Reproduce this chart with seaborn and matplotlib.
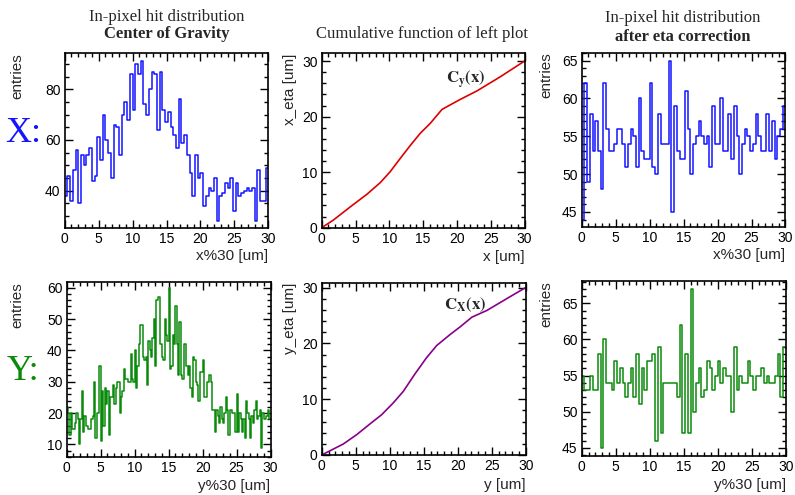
import numpy as np
import pandas as pd
import matplotlib
matplotlib.use("Agg")
import matplotlib.pyplot as plt
import seaborn as sns
from matplotlib.ticker import MultipleLocator

# ---------------- data ----------------
# In-pixel hit distribution, centre of gravity, X (75 bins over 0..30 um)
x_cog_counts = [38, 46, 36, 48, 56, 35, 54, 50, 54, 57,
                44, 46, 61, 52, 70, 60, 55, 45, 66, 65,
                54, 70, 75, 68, 86, 72, 90, 86, 91, 74,
                70, 80, 87, 86, 64, 87, 72, 67, 71, 65,
                62, 57, 76, 59, 62, 54, 47, 38, 54, 45,
                47, 34, 38, 41, 40, 45, 28, 38, 39, 43,
                41, 45, 32, 43, 38, 39, 40, 41, 40, 41,
                28, 48, 36, 36, 49]
# centre of gravity, Y (150 bins over 0..30 um)
y_cog_counts = [22, 20, 13, 20, 15, 15, 17, 20, 18, 10,
                18, 27, 14, 19, 16, 16, 15, 15, 18, 19,
                30, 12, 20, 20, 35, 11, 27, 16, 28, 23,
                27, 13, 25, 25, 29, 23, 28, 30, 30, 20,
                25, 27, 34, 31, 31, 30, 30, 39, 31, 30,
                40, 28, 35, 42, 48, 48, 38, 37, 38, 29,
                43, 40, 38, 44, 50, 35, 56, 57, 57, 42,
                38, 37, 50, 45, 43, 60, 34, 35, 45, 42,
                54, 42, 32, 49, 32, 31, 42, 42, 35, 32,
                35, 28, 25, 38, 37, 30, 29, 24, 33, 33,
                37, 25, 25, 30, 30, 32, 30, 21, 21, 14,
                21, 19, 17, 22, 18, 17, 20, 25, 21, 13,
                21, 21, 20, 20, 14, 26, 14, 20, 18, 14,
                18, 12, 24, 20, 18, 12, 19, 17, 21, 24,
                18, 19, 21, 9, 20, 18, 18, 19, 21, 18]
# after eta correction, X (75 bins)
x_eta_counts = [44, 62, 49, 58, 53, 57, 53, 48, 62, 56,
                53, 53, 54, 56, 56, 54, 51, 54, 56, 55,
                51, 60, 53, 52, 52, 62, 51, 50, 58, 54,
                54, 54, 65, 45, 59, 53, 52, 52, 61, 56,
                50, 54, 55, 57, 55, 54, 55, 51, 59, 54,
                54, 60, 53, 53, 58, 52, 59, 55, 50, 54,
                56, 55, 53, 54, 58, 55, 53, 53, 58, 53,
                57, 52, 55, 56, 59]
# after eta correction, Y (75 bins)
y_eta_counts = [55, 53, 53, 55, 53, 53, 58, 45, 60, 54,
                54, 53, 57, 54, 56, 54, 52, 54, 56, 52,
                58, 51, 56, 53, 57, 57, 58, 46, 59, 47,
                54, 54, 54, 54, 54, 52, 62, 47, 58, 47,
                67, 50, 54, 56, 52, 53, 57, 56, 53, 55,
                57, 54, 56, 55, 55, 50, 59, 53, 55, 54,
                54, 57, 55, 53, 55, 55, 56, 54, 55, 54,
                54, 55, 58, 52, 59]
# cumulative functions (read points)
cum_x_pos = [0, 1.73, 4.45, 6.67, 8.65, 10.13, 11.62, 13.1, 14.58, 16.07,
             17.8, 18.54, 20.5, 23.0, 26.45, 30.0]
cum_x_val = [0, 1.38, 3.96, 6.0, 8.1, 10.08, 12.48, 14.8, 17.0, 18.8,
             21.3, 21.8, 23.1, 24.65, 27.2, 30.0]
cum_y_pos = [0, 3.19, 5.15, 7.1, 8.8, 10.5, 12.0, 13.7, 15.4, 16.9,
             18.9, 20.3, 22.1, 24.3, 27.2, 30.0]
cum_y_val = [0, 1.98, 3.65, 5.57, 7.2, 9.3, 11.4, 14.5, 17.4, 19.6,
             21.6, 22.9, 24.7, 25.9, 28.0, 30.0]

col_top_titles = ["In-pixel hit distribution", "Cumulative function of left plot",
                  "In-pixel hit distribution"]
col_sub_titles = ["Center of Gravity", "", "after eta correction"]

# ---------------- style ----------------
sns.set_theme(style="ticks")
plt.rcParams['font.family'] = ['Liberation Sans', 'DejaVu Sans']
plt.rcParams['mathtext.fontset'] = 'stix'

W, H = 795, 495
fig = plt.figure(figsize=(W / 100, H / 100), dpi=100)
fig.patch.set_facecolor('white')


def add_ax(l, t, r, b):
    return fig.add_axes([l / W, 1 - b / H, (r - l) / W, (b - t) / H])


def style(ax, ylim, ymaj, ymin):
    ax.set_xlim(0, 30)
    ax.set_ylim(*ylim)
    ax.xaxis.set_major_locator(MultipleLocator(5))
    ax.xaxis.set_minor_locator(MultipleLocator(1))
    ax.yaxis.set_major_locator(MultipleLocator(ymaj))
    ax.yaxis.set_minor_locator(MultipleLocator(ymin))
    ax.tick_params(which='both', direction='in', top=True, right=True,
                   labelsize=10, pad=3, color='black', labelcolor='black')
    ax.tick_params(which='major', length=6, width=1)
    ax.tick_params(which='minor', length=3, width=1)
    for s in ax.spines.values():
        s.set_visible(True)
        s.set_linewidth(1.2)
        s.set_color('black')
    ax.set_facecolor('white')
    ax.grid(False)


def hist(ax, counts, color):
    n = len(counts)
    edges = np.linspace(0, 30, n + 1)
    centers = 0.5 * (edges[:-1] + edges[1:])
    df = pd.DataFrame({"pos": centers, "count": counts})
    sns.histplot(data=df, x="pos", weights="count", bins=n, binrange=(0, 30),
                 element="step", fill=False, color=color, linewidth=1.1, ax=ax)


def labels(ax, xl, yl, xly, ylx):
    ax.set_xlabel(xl, fontsize=11, loc='right')
    ax.set_ylabel(yl, fontsize=11, loc='top')
    ax.xaxis.set_label_coords(1.0, xly)
    ax.yaxis.set_label_coords(ylx, 1.0)


blue = '#1414ff'
green = '#0a8a0a'

# top-left
ax = add_ax(64.7, 53.5, 268.3, 227.5)
hist(ax, x_cog_counts, blue)
style(ax, (25.5, 94.1), 20, 5)
labels(ax, "x%30 [um]", "entries", -0.125, -0.2)

# top-middle
ax = add_ax(321.7, 53.3, 524.5, 227.7)
sns.lineplot(x=cum_x_pos, y=cum_x_val, color='#dd0000', linewidth=1.2, ax=ax)
style(ax, (0, 31.4), 10, 2)
labels(ax, "x [um]", "x_eta [um]", -0.125, -0.122)
ax.text(21.3, 26.6, r'$\mathbf{C_{y}(x)}$', fontsize=12, ha='center', va='center')

# top-right
ax = add_ax(581.7, 52.7, 785.5, 226.7)
hist(ax, x_eta_counts, blue)
style(ax, (43.05, 66.05), 5, 1)
labels(ax, "x%30 [um]", "entries", -0.125, -0.141)

# bottom-left
ax = add_ax(66.7, 282, 270.5, 457)
hist(ax, y_cog_counts, green)
style(ax, (6, 61.8), 10, 2)
labels(ax, "y%30 [um]", "entries", -0.125, -0.21)

# bottom-middle
ax = add_ax(321.7, 282.5, 525.7, 455)
sns.lineplot(x=cum_y_pos, y=cum_y_val, color='#880088', linewidth=1.2, ax=ax)
style(ax, (0, 30.9), 10, 2)
labels(ax, "y [um]", "y_eta [um]", -0.135, -0.122)
ax.text(21.1, 26.9, r'$\mathbf{C_{X}(x)}$', fontsize=12, ha='center', va='center')

# bottom-right
ax = add_ax(581.7, 281, 785.7, 455.7)
hist(ax, y_eta_counts, green)
style(ax, (43.9, 68.1), 5, 1)
labels(ax, "y%30 [um]", "entries", -0.13, -0.141)

# titles
serif = ['Liberation Serif', 'DejaVu Serif']
fig.text(167 / W, 1 - 17 / H, col_top_titles[0], ha='center', va='center', fontsize=12, family=serif)
fig.text(167 / W, 1 - 34 / H, col_sub_titles[0], ha='center', va='center', fontsize=12,
         family=serif, weight='bold')
fig.text(422 / W, 1 - 34 / H, col_top_titles[1], ha='center', va='center', fontsize=12, family=serif)
fig.text(683 / W, 1 - 18 / H, col_top_titles[2], ha='center', va='center', fontsize=12, family=serif)
fig.text(683 / W, 1 - 37 / H, col_sub_titles[2], ha='center', va='center', fontsize=12,
         family=serif, weight='bold')

fig.text(23 / W, 1 - 134 / H, "X:", ha='center', va='center', fontsize=26, family=serif, color=blue)
fig.text(23 / W, 1 - 372 / H, "Y:", ha='center', va='center', fontsize=26, family=serif, color=green)

fig.savefig("out.png", dpi=100, facecolor='white')
